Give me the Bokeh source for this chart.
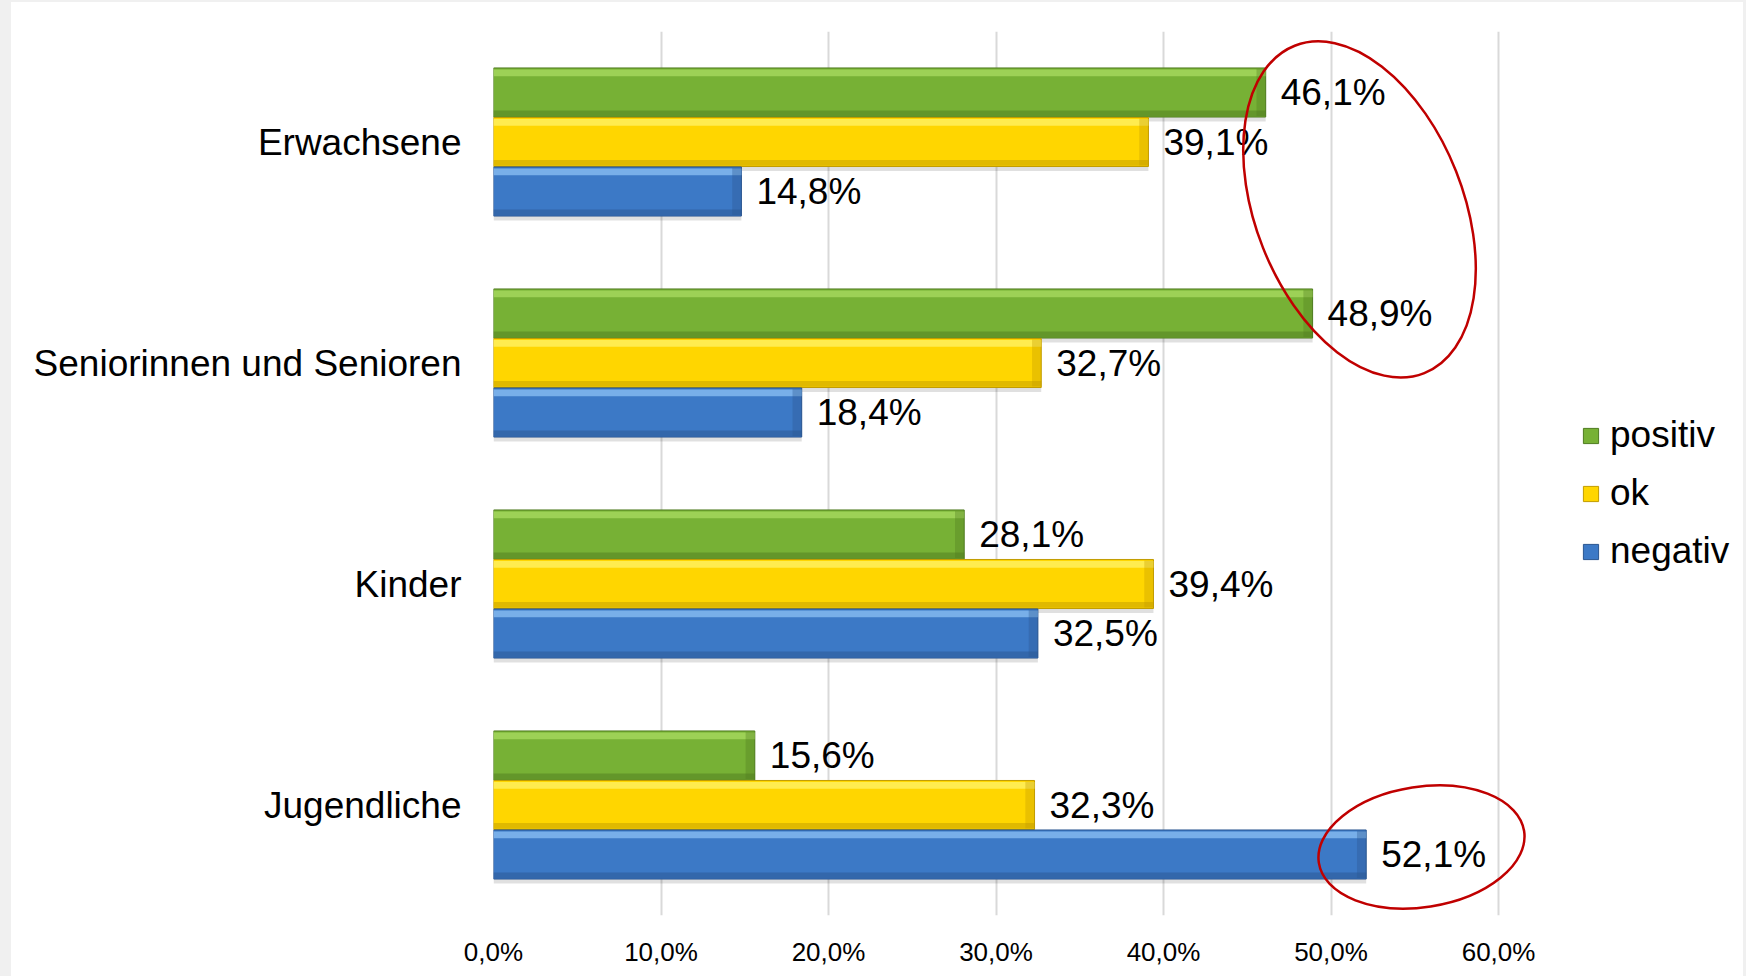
from bokeh.plotting import figure
from bokeh.models import (ColumnDataSource, FactorRange, Range1d, FixedTicker,
                          Legend, LegendItem)
from bokeh.transform import dodge
from bokeh.core.properties import value
from bokeh.embed import file_html
from bokeh.resources import INLINE

# ---------------- data ----------------
categories = ["Erwachsene", "Seniorinnen und Senioren", "Kinder", "Jugendliche"]
positiv = [46.1, 48.9, 28.1, 15.6]
ok = [39.1, 32.7, 39.4, 32.3]
negativ = [14.8, 18.4, 32.5, 52.1]
series_names = ["positiv", "ok", "negativ"]
x_ticks = [0, 10, 20, 30, 40, 50, 60]
x_tick_labels = ["0,0%", "10,0%", "20,0%", "30,0%", "40,0%", "50,0%", "60,0%"]

# highlight ellipses: (category, offset, x-centre %, width %, height cat-units, angle rad)
ellipse_cat = ["Erwachsene", "Jugendliche"]
ellipse_off = [-0.305, -0.19]
ellipse_x = [51.7, 55.4]
ellipse_w = [12.4, 12.4]
ellipse_h = [1.593, 0.545]
ellipse_angle = [0.377, 0.154]

# ---------------- styling ----------------
main_col = ["#77b135", "#ffd600", "#3c79c6"]
light_col = ["#a9dc62", "#fff36a", "#8cc2f4"]
dark_col = ["#4f7c20", "#c29c00", "#2a5590"]
offsets = [0.224, 0.0, -0.224]
BAR_H = 0.222
FONT = "Liberation Sans"

def fmt(v):
    return f"{v:.1f}".replace(".", ",") + "%"

factors = list(reversed(categories))
p = figure(width=1746, height=976, y_range=FactorRange(factors=factors),
           x_range=Range1d(0, 75.46), output_backend="svg", toolbar_location=None,
           min_border_left=482, min_border_right=0, min_border_top=29,
           min_border_bottom=63)
p.styles = {"border-left": "11px solid #f0f0f0",
            "border-top": "2px solid #f0f0f0",
            "border-right": "3px solid #f0f0f0"}
p.outline_line_color = None
p.background_fill_color = "white"
p.border_fill_color = "white"

p.xaxis.ticker = FixedTicker(ticks=x_ticks)
p.xaxis.major_label_overrides = {t: l for t, l in zip(x_ticks, x_tick_labels)}
p.xaxis.axis_line_color = None
p.xaxis.major_tick_line_color = None
p.xaxis.minor_tick_line_color = None
p.xaxis.major_label_standoff = 15
p.xaxis.major_label_text_font = FONT
p.xaxis.major_label_text_font_size = "26px"
p.xaxis.major_label_text_color = "black"

p.yaxis.axis_line_color = None
p.yaxis.major_tick_line_color = None
p.yaxis.major_label_standoff = 26
p.yaxis.major_label_text_font = FONT
p.yaxis.major_label_text_font_size = "37px"
p.yaxis.major_label_text_color = "black"

p.ygrid.grid_line_color = None
p.xgrid.ticker = FixedTicker(ticks=x_ticks)
p.xgrid.grid_line_color = "#d9d9d9"
p.xgrid.grid_line_width = 2

legend_items = []
for vals, name, mc, lc, dc, off in zip([positiv, ok, negativ], series_names,
                                        main_col, light_col, dark_col, offsets):
    src = ColumnDataSource(dict(cat=categories, v=vals,
                                lbl=[fmt(v) for v in vals],
                                vend=[v - 0.55 for v in vals]))
    # soft shadow
    p.hbar(y=dodge("cat", off - 0.02, range=p.y_range), left=0, right="v",
           height=BAR_H, source=src, fill_color="black", fill_alpha=0.12,
           line_color=None)
    main = p.hbar(y=dodge("cat", off, range=p.y_range), left=0, right="v",
                  height=BAR_H, source=src, fill_color=mc, line_color=dc,
                  line_width=1)
    # top bevel highlight
    p.hbar(y=dodge("cat", off + BAR_H / 2 - 0.022, range=p.y_range), left=0,
           right="v", height=0.03, source=src, fill_color=lc, fill_alpha=0.75,
           line_color=None)
    # bottom bevel shade
    p.hbar(y=dodge("cat", off - BAR_H / 2 + 0.017, range=p.y_range), left=0,
           right="v", height=0.026, source=src, fill_color=dc, fill_alpha=0.5,
           line_color=None)
    # right-end bevel
    p.hbar(y=dodge("cat", off, range=p.y_range), left="vend", right="v",
           height=BAR_H - 0.01, source=src, fill_color=dc, fill_alpha=0.35,
           line_color=None)
    p.text(x="v", y=dodge("cat", off, range=p.y_range), text="lbl", source=src,
           x_offset=15, text_baseline="middle", text_align="left",
           text_font=value(FONT), text_font_size="37px", text_color="black")
    legend_items.append(LegendItem(label=name, renderers=[main]))

for c, o, x, w, h, a in zip(ellipse_cat, ellipse_off, ellipse_x, ellipse_w,
                            ellipse_h, ellipse_angle):
    esrc = ColumnDataSource(dict(cat=[c], x=[x], w=[w], h=[h], a=[a]))
    p.ellipse(x="x", y=dodge("cat", o, range=p.y_range), width="w", height="h",
              angle="a", source=esrc, fill_alpha=0, line_color="#c00000",
              line_width=2.5)

legend = Legend(items=legend_items, location=(1088, 343), margin=0, padding=0,
                border_line_alpha=0, background_fill_alpha=0,
                glyph_width=19, glyph_height=19, label_standoff=10, spacing=16,
                label_text_font=FONT, label_text_font_size="37px",
                label_text_color="black")
p.add_layout(legend, "center")

html = file_html(p, INLINE)
html = html.replace("<body>", '<body style="background:#f0f0f0">', 1)
open("out.html", "w").write(html)
